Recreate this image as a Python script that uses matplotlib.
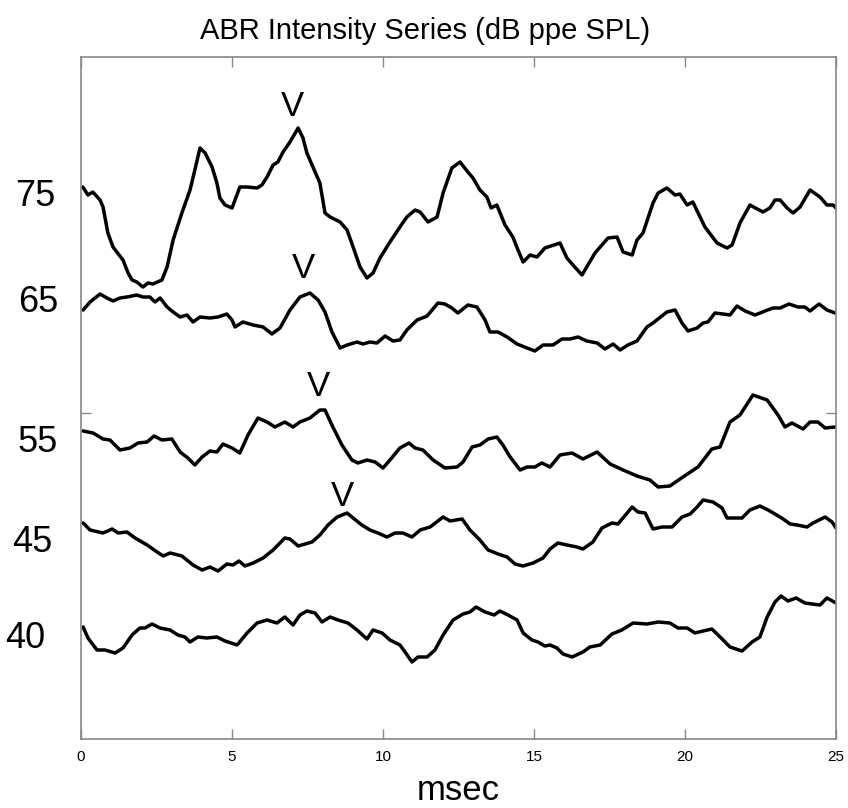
import matplotlib
matplotlib.use("Agg")
import matplotlib.pyplot as plt
from matplotlib import font_manager as fm

# ---------------- data (time in ms, amplitude in arbitrary display units) ----------------
t75 = [0.06,0.23,0.39,0.63,0.73,0.89,1.06,1.39,1.56,1.69,1.85,2.05,2.22,2.38,2.68,2.85,3.05,3.34,3.61,3.77,
       3.94,4.11,4.34,4.50,4.60,4.77,5.00,5.10,5.26,5.50,5.83,5.99,6.16,6.36,6.52,6.69,6.92,7.19,7.35,7.48,
       7.68,7.91,8.08,8.25,8.58,8.81,9.01,9.24,9.47,9.67,9.90,10.23,10.56,10.79,11.06,11.23,11.49,11.79,11.99,12.28,
       12.55,12.81,12.98,13.21,13.44,13.58,13.77,14.04,14.30,14.47,14.64,14.87,15.10,15.36,15.86,16.09,16.29,16.59,17.02,17.45,
       17.75,17.95,18.25,18.41,18.61,18.94,19.11,19.40,19.67,19.83,20.07,20.26,20.66,21.06,21.39,21.56,21.82,22.15,22.58,22.81,
       22.98,23.15,23.38,23.58,23.81,24.14,24.47,24.70,24.90,25.00]
y75 = [55.2,54.4,54.7,53.9,53.2,50.6,49.2,47.9,46.6,45.9,45.7,45.2,45.6,45.5,45.9,47.2,49.9,52.6,54.9,56.9,
       59.1,58.6,57.2,55.6,54.1,53.4,53.1,53.9,55.2,55.2,55.1,55.4,56.2,57.4,57.7,58.7,59.7,61.1,60.1,58.6,
       57.2,55.6,52.6,52.2,51.7,50.9,49.2,47.2,46.1,46.6,48.1,49.7,51.2,52.2,52.9,52.7,51.7,52.2,54.6,57.1,
       57.7,56.7,56.1,54.9,54.2,53.1,53.4,51.4,50.2,48.9,47.7,48.4,48.2,49.1,49.6,48.1,47.4,46.4,48.6,50.1,
       50.2,48.7,48.4,49.9,50.6,53.6,54.6,55.1,54.4,54.5,53.4,53.7,51.2,49.6,49.1,49.4,51.6,53.4,52.7,53.1,
       53.9,53.9,53.1,52.6,53.2,54.9,54.2,53.4,53.4,53.1]

t65 = [0.07,0.30,0.63,0.86,1.06,1.29,1.52,1.85,2.05,2.28,2.45,2.62,2.85,3.05,3.28,3.51,3.71,3.94,4.27,4.54,
       4.83,5.00,5.10,5.36,5.70,6.03,6.32,6.59,6.92,7.25,7.58,7.85,8.08,8.31,8.58,8.81,9.14,9.34,9.57,9.80,
       10.07,10.33,10.56,10.79,11.13,11.46,11.82,12.05,12.28,12.48,12.81,13.11,13.38,13.54,13.81,14.11,14.44,14.77,15.03,15.30,
       15.63,15.93,16.19,16.46,16.75,17.09,17.35,17.62,17.85,18.11,18.41,18.74,18.94,19.40,19.67,19.90,20.10,20.40,20.60,20.76,
       20.99,21.26,21.49,21.72,21.99,22.32,22.65,22.91,23.15,23.44,23.74,23.97,24.14,24.44,24.70,24.97]
y65 = [42.9,43.7,44.5,44.1,43.8,44.1,44.2,44.4,44.2,44.2,43.7,44.1,43.2,42.7,42.2,42.4,41.7,42.2,42.1,42.2,
       42.5,41.9,41.2,41.7,41.4,41.2,40.5,41.1,42.9,44.2,44.6,43.9,42.7,40.7,39.1,39.4,39.7,39.5,39.7,39.6,
       40.3,39.8,39.9,40.9,41.9,42.3,43.6,43.5,43.1,42.6,43.4,43.2,41.9,40.7,40.7,40.2,39.5,39.1,38.8,39.4,
       39.4,40.0,40.0,40.2,39.8,39.6,39.0,39.5,38.9,39.4,39.8,41.2,41.6,42.7,42.9,41.6,40.8,41.1,41.6,41.7,
       42.6,42.5,42.4,43.3,42.8,42.4,42.8,43.1,43.1,43.5,43.2,43.2,42.8,43.5,42.9,42.6]

t55 = [0.07,0.40,0.73,0.96,1.29,1.62,1.89,2.19,2.42,2.68,3.01,3.28,3.54,3.77,4.01,4.27,4.50,4.70,5.00,5.26,
       5.53,5.86,6.16,6.42,6.75,7.02,7.25,7.58,7.91,8.08,8.34,8.64,8.97,9.17,9.47,9.74,10.00,10.23,10.56,10.86,
       11.06,11.32,11.66,12.05,12.45,12.65,12.95,13.21,13.48,13.77,13.97,14.21,14.54,14.77,15.03,15.26,15.53,15.86,16.26,16.62,
       17.09,17.52,17.95,18.41,18.84,19.11,19.50,19.93,20.43,20.89,21.16,21.49,21.82,22.25,22.72,23.08,23.31,23.54,23.91,24.14,
       24.40,24.64,24.97]
y55 = [30.8,30.6,30.0,29.9,28.9,29.1,29.6,29.7,30.3,29.9,30.0,28.7,28.1,27.4,28.2,28.8,28.7,29.5,29.1,28.6,
       30.4,32.1,31.7,31.2,31.7,31.2,31.7,32.1,32.9,32.9,31.2,29.4,27.9,27.6,27.9,27.7,27.1,27.9,29.1,29.6,
       29.1,28.9,27.9,27.1,27.2,27.7,29.2,29.4,30.0,30.2,29.4,28.2,26.9,27.2,27.2,27.6,27.2,28.4,28.6,28.0,
       28.7,27.5,26.9,26.3,25.9,25.2,25.3,26.2,27.2,29.0,29.2,31.7,32.4,34.4,33.9,32.4,31.2,31.6,31.0,31.7,
       31.7,31.1,31.2]

t45 = [0.07,0.30,0.73,1.03,1.23,1.52,1.79,2.19,2.52,2.72,2.95,3.34,3.71,4.01,4.27,4.54,4.83,5.03,5.23,5.43,
       5.70,6.03,6.36,6.75,6.92,7.19,7.65,7.91,8.18,8.48,8.81,9.01,9.30,9.57,9.83,10.13,10.40,10.66,10.96,11.23,
       11.56,11.99,12.22,12.62,12.88,13.21,13.48,13.81,14.11,14.37,14.64,14.97,15.30,15.53,15.79,16.09,16.42,16.62,16.95,17.25,
       17.58,17.78,18.25,18.44,18.68,18.94,19.24,19.57,19.90,20.17,20.40,20.60,20.93,21.23,21.39,21.89,22.15,22.48,22.75,22.98,
       23.25,23.48,23.71,24.04,24.24,24.64,24.87,25.00]
y45 = [21.6,20.9,20.6,21.0,20.6,20.7,20.1,19.4,18.7,18.3,18.6,18.3,17.4,16.9,17.2,16.8,17.5,17.4,17.8,17.3,
       17.6,18.1,18.9,20.1,20.0,19.3,19.7,20.4,21.4,22.2,22.6,22.1,21.4,20.9,20.6,20.2,20.6,20.6,20.2,20.9,
       21.2,22.2,21.8,22.0,20.9,19.9,18.9,18.5,18.2,17.5,17.3,17.6,18.1,19.0,19.6,19.4,19.2,19.0,19.7,21.1,
       21.6,21.5,23.2,22.7,22.6,21.0,21.2,21.2,22.2,22.5,23.2,23.9,23.7,23.1,22.1,22.1,22.9,23.3,22.9,22.5,
       22.0,21.5,21.4,21.2,21.6,22.2,21.7,21.1]

t40 = [0.07,0.23,0.53,0.79,1.13,1.39,1.69,1.95,2.12,2.35,2.62,2.95,3.21,3.44,3.61,3.87,4.17,4.50,4.77,5.17,
       5.50,5.83,6.16,6.49,6.75,7.02,7.25,7.48,7.75,7.98,8.25,8.51,8.84,9.14,9.47,9.67,9.97,10.23,10.56,10.73,
       10.96,11.16,11.46,11.72,11.99,12.32,12.65,12.88,13.08,13.38,13.68,13.87,14.14,14.44,14.64,14.93,15.13,15.36,15.53,15.76,
       15.96,16.26,16.62,16.85,17.19,17.58,17.91,18.28,18.74,19.11,19.50,19.77,20.07,20.33,20.60,20.89,21.23,21.49,21.89,22.22,
       22.48,22.72,22.98,23.18,23.41,23.68,23.97,24.21,24.47,24.70,25.00]
y40 = [11.2,10.1,8.9,8.9,8.6,9.1,10.4,11.1,11.1,11.5,11.1,10.9,10.4,10.2,9.7,10.2,10.1,10.2,9.8,9.4,
       10.6,11.6,11.9,11.6,12.2,11.4,12.4,12.8,12.6,11.7,12.2,11.9,11.6,10.9,10.0,10.9,10.6,9.9,9.4,8.7,
       7.7,8.2,8.2,8.9,10.4,11.9,12.5,12.7,13.2,12.7,12.4,12.8,12.4,11.9,10.6,9.9,9.7,9.3,9.4,9.1,
       8.5,8.2,8.7,9.2,9.4,10.5,10.9,11.6,11.5,11.7,11.6,11.1,11.1,10.6,10.8,11.0,10.0,9.2,8.8,9.7,
       10.2,12.2,13.7,14.3,13.8,14.1,13.6,13.5,13.4,14.1,13.6]

levels = ["75", "65", "55", "45", "40"]
level_label_y = [54.2, 43.7, 29.6, 19.6, 10.1]
level_label_x = [-1.5, -1.4, -1.45, -1.6, -1.85]

# Wave V peak markers (time ms, amplitude)
v_t = [7.0, 7.35, 7.85, 8.65]
v_y = [63.2, 47.0, 35.3, 24.3]

xticks = [0, 5, 10, 15, 20, 25]

# ---------------- figure ----------------
narrow = ["Liberation Sans Narrow", "Liberation Sans", "DejaVu Sans"]
plt.rcParams["font.family"] = narrow

fig = plt.figure(figsize=(8.48, 8.08), dpi=100)
ax = fig.add_axes([81/848, 69/808, (836-81)/848, (739-57)/808])

traces = [(t75, y75), (t65, y65), (t55, y55), (t45, y45), (t40, y40)]
for t, y in traces:
    ax.plot(t, y, color="black", lw=2.5, solid_joinstyle="round", solid_capstyle="round")

ax.set_xlim(0, 25)
ax.set_ylim(0, 68.2)
ax.set_xticks(xticks)
ax.set_xticklabels([str(v) for v in xticks], fontsize=11)
ax.set_yticks([32.6])
ax.set_yticklabels([""])
ax.tick_params(direction="in", length=7, width=1, color="#888888",
               top=True, right=True, bottom=True, left=True, pad=8)
for s in ax.spines.values():
    s.set_color("#888888")
    s.set_linewidth(1.2)

for lab, ly, lx in zip(levels, level_label_y, level_label_x):
    ax.text(lx, ly, lab, fontsize=26, ha="center", va="center", clip_on=False)

for vt, vy in zip(v_t, v_y):
    ax.text(vt, vy, "V", fontsize=25, ha="center", va="center")

fig.text(425/848, 1 - 31/808, "ABR Intensity Series (dB ppe SPL)", fontsize=21,
         ha="center", va="center")
fig.text(458/848, 1 - 791/808, "msec", fontsize=25, ha="center", va="center")

fig.savefig("out.png", dpi=100, facecolor="white")
